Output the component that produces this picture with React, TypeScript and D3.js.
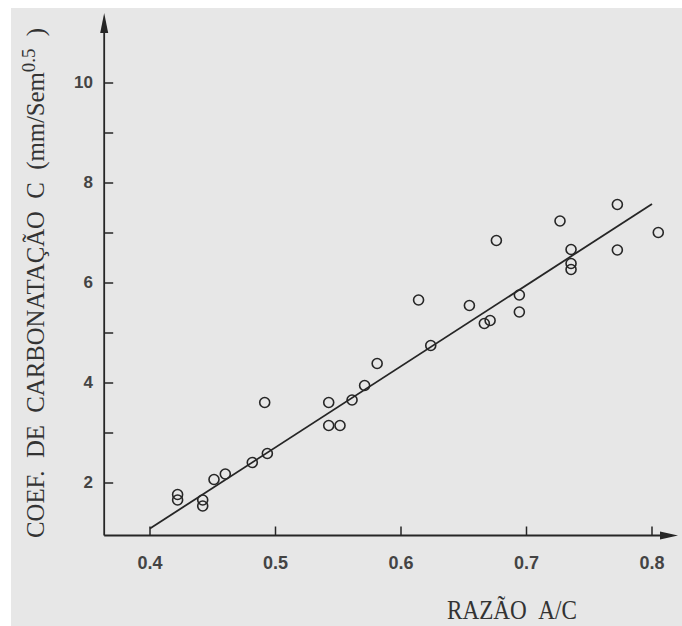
import { useEffect, useRef } from 'react';
import * as d3 from 'd3';

// water/cement ratio vs carbonation coefficient
const ratioAC = [
  0.422, 0.422, 0.442, 0.442, 0.451, 0.46, 0.4815, 0.4935, 0.4914, 0.5424,
  0.5424, 0.5514, 0.561, 0.571, 0.581, 0.614, 0.6237, 0.6545, 0.6664, 0.671,
  0.676, 0.6943, 0.6943, 0.7267, 0.7355, 0.7355, 0.7355, 0.7724, 0.7724, 0.805,
];
const coefC = [
  1.77, 1.66, 1.66, 1.54, 2.07, 2.18, 2.41, 2.59, 3.61, 3.61,
  3.15, 3.15, 3.66, 3.95, 4.39, 5.66, 4.75, 5.55, 5.19, 5.25,
  6.85, 5.76, 5.42, 7.24, 6.67, 6.39, 6.27, 7.57, 6.66, 7.01,
];

// fitted line end points
const fitX = [0.4, 0.8];
const fitY = [1.09, 7.58];

const xTicks = [0.4, 0.5, 0.6, 0.7, 0.8];
const yTicks = [2, 4, 6, 8, 10];
const yMinorTicks = [3, 5, 7, 9];

const W = 682;
const H = 626;
const INK = '#262626';
const SP = '\u00A0\u00A0'; // wide typewriter gaps

const App = () => {
  const svgRef = useRef<SVGSVGElement>(null);

  useEffect(() => {
    if (!svgRef.current) return;
    const svg = d3.select(svgRef.current);
    svg.selectAll('*').remove();

    const x = d3.scaleLinear().domain([0.4, 0.8]).range([150, 652]);
    const y = d3.scaleLinear().domain([0, 10]).range([583, 83]);

    const x0 = x(0.3635); // y axis position
    const y0 = y(0.95); // x axis position
    const xEnd = 678;
    const yTop = 13;

    // scanned-paper background
    svg.append('rect').attr('width', W).attr('height', H).attr('fill', '#ffffff');
    svg.append('rect')
      .attr('x', 11).attr('y', 8)
      .attr('width', W - 11).attr('height', H - 8)
      .attr('fill', '#e7e7e7');

    const g = svg.append('g');

    // axes
    g.append('line')
      .attr('x1', x0).attr('x2', x0)
      .attr('y1', y0).attr('y2', yTop + 10)
      .attr('stroke', INK).attr('stroke-width', 1.8);
    g.append('line')
      .attr('x1', x0).attr('x2', xEnd - 10)
      .attr('y1', y0).attr('y2', y0)
      .attr('stroke', INK).attr('stroke-width', 1.8);

    // arrow heads
    g.append('path')
      .attr('d', `M${x0},${yTop} L${x0 - 4},${yTop + 20} L${x0 + 4},${yTop + 20} Z`)
      .attr('fill', INK);
    g.append('path')
      .attr('d', `M${xEnd},${y0} L${xEnd - 18},${y0 - 4} L${xEnd - 18},${y0 + 4} Z`)
      .attr('fill', INK);

    // y ticks (inward)
    g.selectAll('line.ytick')
      .data([...yTicks, ...yMinorTicks])
      .enter()
      .append('line')
      .attr('class', 'ytick')
      .attr('x1', x0).attr('x2', x0 + 9)
      .attr('y1', d => y(d)).attr('y2', d => y(d))
      .attr('stroke', INK).attr('stroke-width', 1.5);

    g.selectAll('text.ylab')
      .data(yTicks)
      .enter()
      .append('text')
      .attr('class', 'ylab')
      .attr('x', 93)
      .attr('y', d => y(d) + 5)
      .attr('text-anchor', 'end')
      .attr('font-family', '"Liberation Sans", Arial, sans-serif')
      .attr('font-weight', 'bold')
      .attr('font-size', 17)
      .attr('fill', '#444')
      .text(d => d);

    // x ticks (upward)
    g.selectAll('line.xtick')
      .data(xTicks)
      .enter()
      .append('line')
      .attr('class', 'xtick')
      .attr('x1', d => x(d)).attr('x2', d => x(d))
      .attr('y1', y0).attr('y2', y0 - 9)
      .attr('stroke', INK).attr('stroke-width', 1.5);

    g.selectAll('text.xlab')
      .data(xTicks)
      .enter()
      .append('text')
      .attr('class', 'xlab')
      .attr('x', d => x(d))
      .attr('y', 569)
      .attr('text-anchor', 'middle')
      .attr('font-family', '"Liberation Sans", Arial, sans-serif')
      .attr('font-weight', 'bold')
      .attr('font-size', 18)
      .attr('fill', '#444')
      .text(d => d.toFixed(1));

    // regression line
    const line = d3.line<number>()
      .x(d => x(fitX[d]))
      .y(d => y(fitY[d]));
    g.append('path')
      .attr('d', line([0, 1]))
      .attr('fill', 'none')
      .attr('stroke', INK)
      .attr('stroke-width', 1.8);

    // data points
    g.selectAll('circle.pt')
      .data(ratioAC.map((r, i) => ({ r, c: coefC[i] })))
      .enter()
      .append('circle')
      .attr('class', 'pt')
      .attr('cx', d => x(d.r))
      .attr('cy', d => y(d.c))
      .attr('r', 5)
      .attr('fill', 'none')
      .attr('stroke', INK)
      .attr('stroke-width', 1.6);

    // axis titles
    svg.append('text')
      .attr('x', 512)
      .attr('y', 619)
      .attr('text-anchor', 'middle')
      .attr('font-family', '"Liberation Serif", "Times New Roman", serif')
      .attr('font-size', 27)
      .attr('textLength', 130)
      .attr('lengthAdjust', 'spacingAndGlyphs')
      .attr('fill', '#333')
      .text(`RAZÃO${SP}A/C`);

    const yt = svg.append('text')
      .attr('transform', 'translate(44,283) rotate(-90)')
      .attr('text-anchor', 'middle')
      .attr('font-family', '"Liberation Serif", "Times New Roman", serif')
      .attr('font-size', 25)
      .attr('textLength', 510)
      .attr('lengthAdjust', 'spacingAndGlyphs')
      .attr('fill', '#333');
    yt.append('tspan').text(`COEF.${SP}DE${SP}CARBONATAÇÃO${SP}C${SP}(mm/Sem`);
    yt.append('tspan')
      .attr('dy', -9)
      .attr('font-size', 19)
      .text('0.5');
    yt.append('tspan')
      .attr('dy', 9)
      .text(`${SP})`);
  }, []);

  return (
    <svg
      ref={svgRef}
      width={W}
      height={H}
      style={{ position: 'absolute', left: 0, top: 0, display: 'block' }}
    />
  );
};

export default App;
